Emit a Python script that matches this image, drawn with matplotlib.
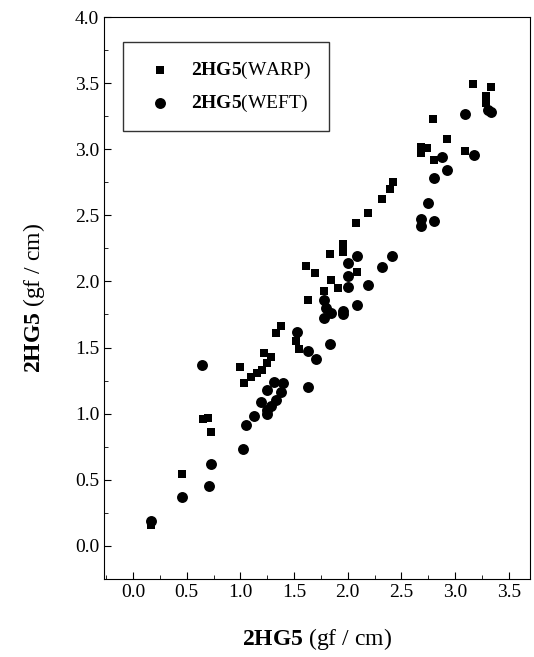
import matplotlib.pyplot as plt
from matplotlib.ticker import MultipleLocator

plt.rcParams['font.family'] = ['Liberation Serif', 'DejaVu Serif']
plt.rcParams['mathtext.fontset'] = 'custom'
plt.rcParams['mathtext.rm'] = 'Liberation Serif'
plt.rcParams['mathtext.bf'] = 'Liberation Serif:bold'

# WARP (squares)
warp_x = [0.17, 0.46, 0.65, 0.70, 0.73, 1.00, 1.03, 1.10, 1.15, 1.20, 1.25, 1.22,
          1.28, 1.33, 1.38, 1.52, 1.55, 1.63, 1.69, 1.61, 1.78, 1.84, 1.83, 1.91,
          1.96, 1.96, 2.09, 2.08, 2.19, 2.32, 2.39, 2.42, 2.68, 2.68, 2.74, 2.79,
          2.80, 2.92, 3.09, 3.17, 3.29, 3.29, 3.33]
warp_y = [0.16, 0.54, 0.96, 0.97, 0.86, 1.35, 1.23, 1.28, 1.31, 1.33, 1.38, 1.46,
          1.43, 1.61, 1.66, 1.55, 1.49, 1.86, 2.06, 2.12, 1.93, 2.01, 2.21, 1.95,
          2.22, 2.28, 2.07, 2.44, 2.52, 2.62, 2.70, 2.75, 2.97, 3.02, 3.01, 3.23,
          2.92, 3.08, 2.99, 3.49, 3.40, 3.35, 3.47]

# WEFT (circles)
weft_x = [0.17, 0.46, 0.71, 0.73, 0.64, 1.02, 1.05, 1.13, 1.25, 1.25, 1.19, 1.28,
          1.33, 1.38, 1.25, 1.31, 1.40, 1.63, 1.70, 1.63, 1.53, 1.83, 1.78, 1.84,
          1.80, 1.78, 1.96, 1.96, 2.09, 2.00, 2.00, 2.19, 2.32, 2.41, 2.00, 2.09,
          2.68, 2.68, 2.80, 2.75, 2.80, 2.92, 2.88, 3.18, 3.09, 3.33, 3.31]
weft_y = [0.19, 0.37, 0.45, 0.62, 1.37, 0.73, 0.91, 0.98, 1.00, 1.03, 1.09, 1.06,
          1.10, 1.16, 1.18, 1.24, 1.23, 1.20, 1.41, 1.47, 1.62, 1.53, 1.72, 1.76,
          1.80, 1.86, 1.75, 1.78, 1.82, 1.96, 2.04, 1.97, 2.11, 2.19, 2.14, 2.19,
          2.42, 2.47, 2.46, 2.59, 2.78, 2.84, 2.94, 2.96, 3.27, 3.28, 3.30]

fig = plt.figure(figsize=(5.34, 6.57), dpi=100)
ax = fig.add_axes([0.195, 0.119, 0.798, 0.855])

ax.scatter(warp_x, warp_y, marker='s', s=40, color='black', linewidths=0,
           label=r'$\mathbf{2HG5}$(WARP)')
ax.scatter(weft_x, weft_y, marker='o', s=62, color='black', linewidths=0,
           label=r'$\mathbf{2HG5}$(WEFT)')

ax.set_xlim(-0.27, 3.70)
ax.set_ylim(-0.25, 4.0)
ax.xaxis.set_minor_locator(MultipleLocator(0.25))
ax.yaxis.set_minor_locator(MultipleLocator(0.25))
ax.set_xticks([0, 0.5, 1, 1.5, 2, 2.5, 3, 3.5])
ax.set_yticks([0, 0.5, 1, 1.5, 2, 2.5, 3, 3.5, 4])
ax.tick_params(which='both', direction='in', labelsize=14)
ax.tick_params(which='major', length=5)
ax.tick_params(which='minor', length=3)

ax.set_xlabel(r'$\mathbf{2HG5}$ (gf / cm)', fontsize=17, labelpad=18)
ax.set_ylabel(r'$\mathbf{2HG5}$ (gf / cm)', fontsize=17, labelpad=20)

leg = ax.legend(loc='upper left', bbox_to_anchor=(0.045, 0.955), fontsize=14,
                frameon=True, fancybox=False, edgecolor='black',
                handletextpad=0.6, borderpad=0.9, labelspacing=0.6,
                borderaxespad=0)
leg.get_frame().set_linewidth(1.0)

fig.savefig('out.png', dpi=100)
